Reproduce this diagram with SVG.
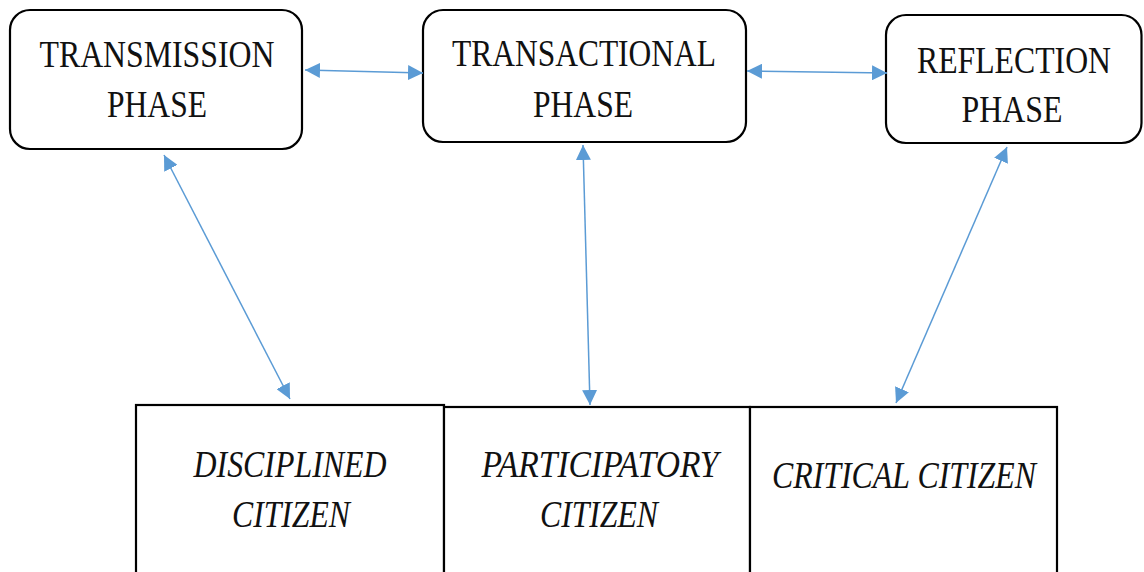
<svg xmlns="http://www.w3.org/2000/svg" width="1144" height="572" viewBox="0 0 1144 572">
<style>
.phase{fill:#fff;stroke:#000;stroke-width:2.2}
.cit{fill:#fff;stroke:#000;stroke-width:2.2}
.t{font-family:"Liberation Serif","Times New Roman",serif;font-size:38px;fill:#111;text-anchor:middle}
.i{font-style:italic}
.c{stroke:#5B9BD5;stroke-width:1.5;fill:none;marker-start:url(#ah);marker-end:url(#ah)}
</style>
<defs>
<marker id="ah" viewBox="0 0 15 15" refX="15" refY="7.5" markerWidth="15" markerHeight="15" markerUnits="userSpaceOnUse" orient="auto-start-reverse">
<path d="M0,0 L15,7.5 L0,15 z" fill="#5B9BD5"/>
</marker>
</defs>
<rect width="1144" height="572" fill="#fff"/>
<g id="transmission">
<rect class="phase" x="10" y="10" width="292" height="139" rx="20"/>
<text class="t" x="157" y="67" textLength="235" lengthAdjust="spacingAndGlyphs">TRANSMISSION</text>
<text class="t" x="157" y="117" textLength="100" lengthAdjust="spacingAndGlyphs">PHASE</text>
</g>
<g id="transactional">
<rect class="phase" x="423" y="10" width="323" height="132" rx="20"/>
<text class="t" x="584" y="66" textLength="264" lengthAdjust="spacingAndGlyphs">TRANSACTIONAL</text>
<text class="t" x="583" y="117" textLength="100" lengthAdjust="spacingAndGlyphs">PHASE</text>
</g>
<g id="reflection">
<rect class="phase" x="886" y="15" width="255.5" height="128" rx="20"/>
<text class="t" x="1014" y="73" textLength="194" lengthAdjust="spacingAndGlyphs">REFLECTION</text>
<text class="t" x="1012" y="122" textLength="101" lengthAdjust="spacingAndGlyphs">PHASE</text>
</g>
<g id="disciplined">
<rect class="cit" x="136" y="405" width="308" height="180"/>
<text class="t i" x="290" y="477" textLength="193" lengthAdjust="spacingAndGlyphs">DISCIPLINED</text>
<text class="t i" x="291" y="527" textLength="118" lengthAdjust="spacingAndGlyphs">CITIZEN</text>
</g>
<g id="participatory">
<rect class="cit" x="444" y="407" width="306" height="180"/>
<text class="t i" x="600" y="477" textLength="237" lengthAdjust="spacingAndGlyphs">PARTICIPATORY</text>
<text class="t i" x="599" y="527" textLength="118" lengthAdjust="spacingAndGlyphs">CITIZEN</text>
</g>
<g id="critical">
<rect class="cit" x="750" y="407" width="307" height="180"/>
<text class="t i" x="904" y="488" textLength="264" lengthAdjust="spacingAndGlyphs">CRITICAL CITIZEN</text>
</g>
<g id="connectors">
<line class="c" x1="305" y1="70" x2="423" y2="73"/>
<line class="c" x1="747" y1="71" x2="887" y2="73"/>
<line class="c" x1="164" y1="155" x2="290" y2="399"/>
<line class="c" x1="583" y1="145" x2="590" y2="405"/>
<line class="c" x1="1007" y1="147" x2="896" y2="403"/>
</g>
</svg>
